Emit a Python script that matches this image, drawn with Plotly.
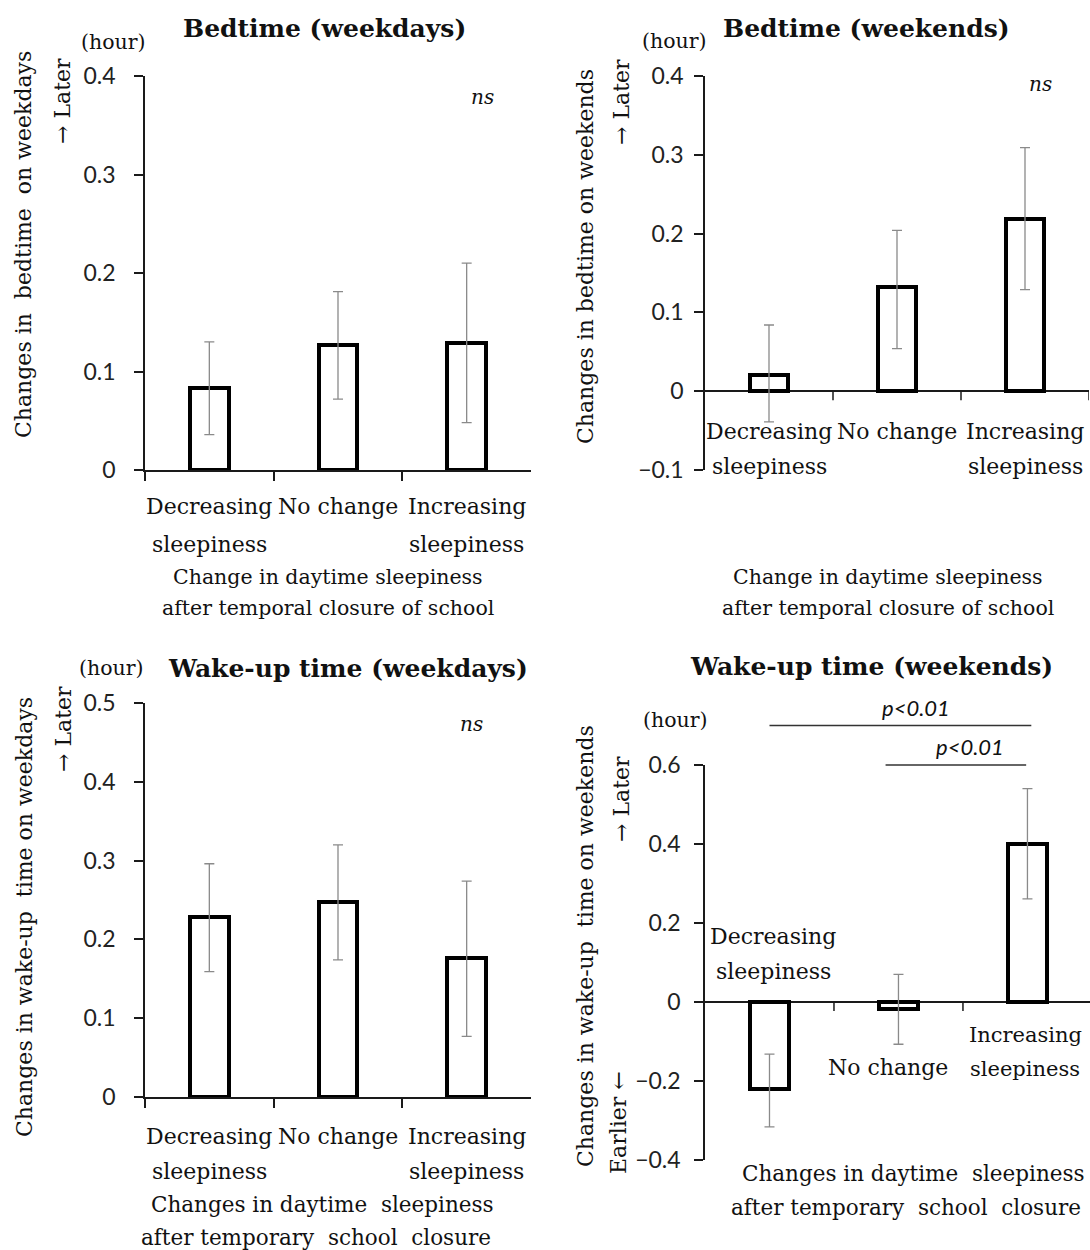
import plotly.graph_objects as go

# ---------------- data ----------------
categories = ["Decreasing sleepiness", "No change", "Increasing sleepiness"]
cat_lines = [["Decreasing", "sleepiness"], ["No change"], ["Increasing", "sleepiness"]]

bed_wd = [0.083, 0.127, 0.129]
bed_wd_lo = [0.036, 0.072, 0.048]
bed_wd_hi = [0.130, 0.181, 0.210]

bed_we = [0.020, 0.132, 0.219]
bed_we_lo = [-0.039, 0.054, 0.129]
bed_we_hi = [0.084, 0.204, 0.309]

wake_wd = [0.228, 0.248, 0.176]
wake_wd_lo = [0.159, 0.174, 0.077]
wake_wd_hi = [0.296, 0.320, 0.274]

wake_we = [-0.220, -0.018, 0.400]
wake_we_lo = [-0.316, -0.107, 0.261]
wake_we_hi = [-0.132, 0.070, 0.540]

ticks_bed_wd = [0, 0.1, 0.2, 0.3, 0.4]
ticks_bed_we = [-0.1, 0, 0.1, 0.2, 0.3, 0.4]
ticks_wake_wd = [0, 0.1, 0.2, 0.3, 0.4, 0.5]
ticks_wake_we = [-0.4, -0.2, 0, 0.2, 0.4, 0.6]

# significance brackets (category index span, height in hours)
sig_pairs = [(0.0, 2.03, 0.70), (0.9, 1.99, 0.60)]
sig_label = "p<0.01"

# ---------------- styling ----------------
W, H = 1090, 1250
SERIF = "DejaVu Serif"
SANS = "Lato"
AX = "#1a1a1a"
TXT = "#111111"
ERR = "#8a8a8a"


def px(x):
    return x / W


def py(y):
    return 1 - y / H


fig = go.Figure()

panels = [
    ("x", "y", bed_wd, bed_wd_lo, bed_wd_hi),
    ("x2", "y2", bed_we, bed_we_lo, bed_we_hi),
    ("x3", "y3", wake_wd, wake_wd_lo, wake_wd_hi),
    ("x4", "y4", wake_we, wake_we_lo, wake_we_hi),
]
for xa, ya, vals, lo, hi in panels:
    fig.add_trace(go.Bar(
        x=categories, y=vals, xaxis=xa, yaxis=ya, width=0.3,
        marker=dict(color="white", line=dict(color="black", width=4)),
        error_y=dict(type="data", symmetric=False,
                     array=[h - v for h, v in zip(hi, vals)],
                     arrayminus=[v - l for v, l in zip(vals, lo)],
                     color=ERR, thickness=1.3, width=5),
        showlegend=False, hoverinfo="skip",
    ))


def xaxis_cfg(x0, x1, anchor, rng, boundary_line):
    d = dict(domain=[px(x0), px(x1)], anchor=anchor, type="category",
             categoryorder="array", categoryarray=categories,
             range=rng, showgrid=False, zeroline=False, showticklabels=False,
             fixedrange=True, automargin=False)
    if boundary_line:
        d.update(showline=True, linecolor=AX, linewidth=1.5, ticks="outside",
                 tickson="boundaries", ticklen=9, tickcolor=AX, tickwidth=1.5)
    else:
        d.update(showline=False, ticks="")
    return d


def yaxis_cfg(y_top, y_bot, anchor, rng, tickvals, standoff, zl):
    return dict(domain=[py(y_bot), py(y_top)], anchor=anchor, range=rng,
                tickvals=tickvals, showgrid=False, showline=True,
                linecolor=AX, linewidth=1.5, ticks="outside", ticklen=9,
                tickcolor=AX, tickwidth=1.5, ticklabelstandoff=standoff,
                tickfont=dict(family=SANS, size=23, color="#222"),
                zeroline=zl, zerolinecolor=AX, zerolinewidth=1.5,
                fixedrange=True, automargin=False)


P4_RIGHT = 2.485
fig.update_layout(
    template="none",
    width=W, height=H, margin=dict(l=0, r=0, t=0, b=0, pad=0),
    paper_bgcolor="white", plot_bgcolor="white", bargap=0,
    xaxis=xaxis_cfg(145, 531, "y", [-0.5, 2.5], True),
    yaxis=yaxis_cfg(76, 470, "x", [0, 0.4], ticks_bed_wd, 14, False),
    xaxis2=xaxis_cfg(705, 1089, "y2", [-0.5, 2.5], False),
    yaxis2=yaxis_cfg(76, 470, "x2", [-0.1, 0.4], ticks_bed_we, 6, True),
    xaxis3=xaxis_cfg(145, 531, "y3", [-0.5, 2.5], True),
    yaxis3=yaxis_cfg(703, 1097, "x3", [0, 0.5], ticks_wake_wd, 14, False),
    xaxis4=xaxis_cfg(705, 1090, "y4", [-0.5, P4_RIGHT], False),
    yaxis4=yaxis_cfg(765, 1160, "x4", [-0.4, 0.6], ticks_wake_we, 9, True),
)

shapes = []
# boundary ticks on zero line for panels 2 and 4
for xa, ya, bounds in (("x2", "y2", [0.5, 1.5, 2.5]), ("x4", "y4", [0.5, 1.5])):
    for b in bounds:
        shapes.append(dict(type="line", xref=xa, yref=ya, x0=b, x1=b,
                           ysizemode="pixel", yanchor=0, y0=0, y1=-9,
                           line=dict(color=AX, width=1.5)))

# significance lines in panel 4 (y converted through the axis scale)
dom4 = fig.layout.yaxis4.domain
rng4 = fig.layout.yaxis4.range


def y4_paper(v):
    return dom4[0] + (v - rng4[0]) / (rng4[1] - rng4[0]) * (dom4[1] - dom4[0])


for a, b, h in sig_pairs:
    shapes.append(dict(type="line", xref="x4", yref="paper", x0=a, x1=b,
                       y0=y4_paper(h), y1=y4_paper(h),
                       line=dict(color="#333", width=1.4)))
fig.update_layout(shapes=shapes)

ann = []


def text(x, y, s, size=21, family=SERIF, angle=0, xref="paper", xshift=0,
         color=TXT):
    ann.append(dict(x=x if xref != "paper" else px(x), y=py(y), xref=xref,
                    yref="paper", text=s, showarrow=False, textangle=angle,
                    xanchor="center", yanchor="middle", xshift=xshift,
                    font=dict(family=family, size=size, color=color)))


# titles
text(324, 29, "<b>Bedtime (weekdays)</b>", 25)
text(866, 29, "<b>Bedtime (weekends)</b>", 25)
text(348, 668, "<b>Wake-up time (weekdays)</b>", 25)
text(871, 666, "<b>Wake-up time (weekends)</b>", 25)

# (hour)
text(113, 42, "(hour)", 20.5)
text(674, 41, "(hour)", 20.5)
text(111, 668, "(hour)", 20.5)
text(675, 720, "(hour)", 20.5)

# ns
text(482, 97, "<i>ns</i>", 20)
text(1040, 84, "<i>ns</i>", 20)
text(471, 724, "<i>ns</i>", 20)

# p-values
text(916, 707, "<i>" + sig_label + "</i>", 22, SANS)
text(970, 746, "<i>" + sig_label + "</i>", 22, SANS)

# y-axis titles
text(24, 245, "Changes in  bedtime  on weekdays", 22, angle=-90)
text(63, 101, "→ Later", 22, angle=-90)
text(585, 257, "Changes in bedtime on weekends", 22, angle=-90)
text(621, 102, "→ Later", 22, angle=-90)
text(24, 917, "Changes in wake-up  time on weekdays", 22, angle=-90)
text(63, 729, "→ Later", 22, angle=-90)
text(585, 946, "Changes in wake-up  time on weekends", 22, angle=-90)
text(621, 799, "→ Later", 22, angle=-90)
text(618, 1123, "Earlier ←", 22, angle=-90)

# x-axis titles
text(328, 577, "Change in daytime sleepiness", 20.5)
text(328, 608, "after temporal closure of school", 20.5)
text(888, 577, "Change in daytime sleepiness", 20.5)
text(888, 608, "after temporal closure of school", 20.5)
text(322, 1204, "Changes in daytime  sleepiness", 21.5)
text(316, 1237, "after temporary  school  closure", 21.5)
text(913, 1173, "Changes in daytime  sleepiness", 21.5)
text(906, 1207, "after temporary  school  closure", 21.5)

# category labels
for xa, y1, y2 in (("x", 507, 544), ("x2", 431, 466), ("x3", 1136, 1171)):
    for i, lines in enumerate(cat_lines):
        text(i, y1, lines[0], 22, xref=xa)
        if len(lines) > 1:
            text(i, y2, lines[1], 22, xref=xa)
# panel 4 labels placed around the bars
text(0, 936, cat_lines[0][0], 22, xref="x4", xshift=4)
text(0, 971, cat_lines[0][1], 22, xref="x4", xshift=4)
text(1, 1067, cat_lines[1][0], 22, xref="x4", xshift=-10)
text(2, 1035, cat_lines[2][0], 21, xref="x4", xshift=-2)
text(2, 1069, cat_lines[2][1], 21, xref="x4", xshift=-2)

fig.update_layout(annotations=ann)
fig.write_html(
    "out.html",
    config={"displayModeBar": False},
    post_script="document.body.style.margin='0';document.body.style.padding='0';",
)
